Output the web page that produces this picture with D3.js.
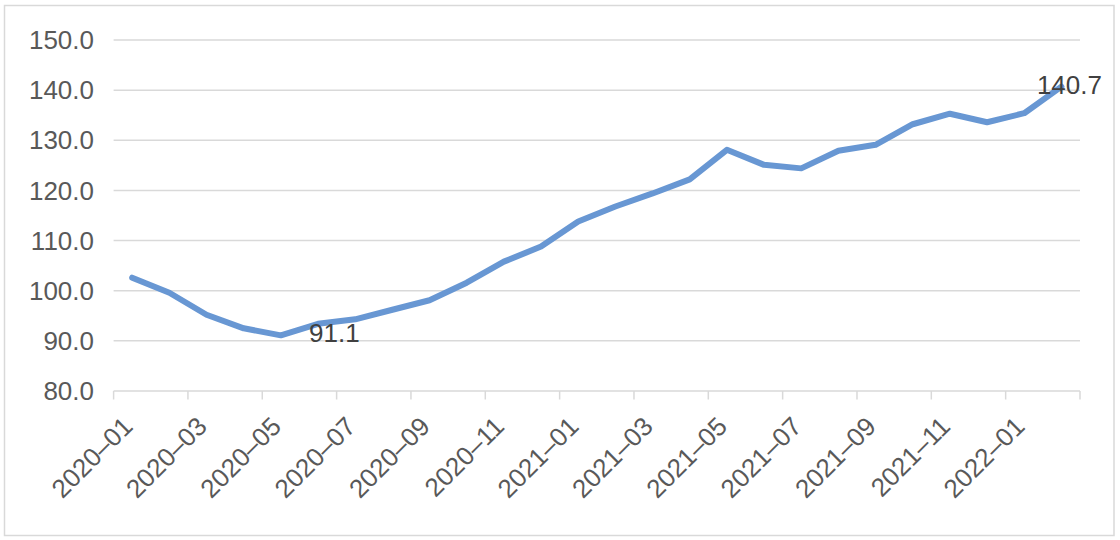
<!DOCTYPE html>
<html>
<head>
<meta charset="utf-8">
<script src="https://cdn.jsdelivr.net/npm/d3@7"></script>
<style>
  html, body { margin: 0; padding: 0; background: #fff; }
  svg { display: block; }
  text { font-family: "Liberation Sans", Arial, Helvetica, sans-serif; }
</style>
</head>
<body>
<svg id="chart" width="1120" height="540"></svg>
<script>
const categories = ["2020–01","2020–02","2020–03","2020–04","2020–05","2020–06","2020–07","2020–08","2020–09","2020–10","2020–11","2020–12",
  "2021–01","2021–02","2021–03","2021–04","2021–05","2021–06","2021–07","2021–08","2021–09","2021–10","2021–11","2021–12",
  "2022–01","2022–02"];
const values = [102.6, 99.6, 95.2, 92.5, 91.1, 93.4, 94.3, 96.2, 98.1, 101.6, 105.8, 108.8,
  113.8, 116.8, 119.4, 122.2, 128.1, 125.1, 124.4, 127.9, 129.1, 133.2, 135.3, 133.6,
  135.4, 140.7];
const yTicks = [80, 90, 100, 110, 120, 130, 140, 150];
const labelledPoints = [
  { index: 4, text: "91.1", dx: 53.5, dy: -2 },
  { index: 25, text: "140.7", dx: 8, dy: -2 }
];

(function () {
const svg = d3.select("#chart");
const pLeft = 113.6, pRight = 1080, pTop = 40, pBottom = 391;

// outer border
svg.append("rect").attr("x", 4.5).attr("y", 5.5).attr("width", 1109.5).attr("height", 530)
  .attr("fill", "#fff").attr("stroke", "#d9d9d9").attr("stroke-width", 1.5);

const x = d3.scaleBand().domain(categories).range([pLeft, pRight]).padding(0);
const y = d3.scaleLinear().domain([80, 150]).range([pBottom, pTop]);

// gridlines
svg.append("g").selectAll("line").data(yTicks.filter(d => d > 80)).join("line")
  .attr("x1", pLeft).attr("x2", pRight)
  .attr("y1", d => y(d)).attr("y2", d => y(d))
  .attr("stroke", "#d9d9d9").attr("stroke-width", 1.5);

// y labels
svg.append("g").selectAll("text").data(yTicks).join("text")
  .attr("x", 94).attr("y", d => y(d)).attr("dy", "0.35em")
  .attr("text-anchor", "end").attr("font-size", 26).attr("fill", "#595959")
  .text(d => d.toFixed(1));

// x axis line and ticks (at band boundaries, every 2 categories)
const xAxisG = svg.append("g");
xAxisG.append("line").attr("x1", pLeft).attr("x2", pRight).attr("y1", pBottom).attr("y2", pBottom)
  .attr("stroke", "#d9d9d9").attr("stroke-width", 1.5);
const tickCats = categories.filter((d, i) => i % 2 === 0);
const tickPositions = tickCats.map(c => x(c)).concat([pRight]);
xAxisG.selectAll("line.tick").data(tickPositions).join("line").attr("class", "tick")
  .attr("x1", d => d).attr("x2", d => d).attr("y1", pBottom).attr("y2", pBottom + 8.5)
  .attr("stroke", "#d9d9d9").attr("stroke-width", 1.5);

// x labels
xAxisG.selectAll("text").data(tickCats).join("text")
  .attr("transform", d => `translate(${x(d) + x.bandwidth() / 2 - 4.5},${pBottom + 30.5}) rotate(-45)`)
  .attr("text-anchor", "end").attr("dy", "0.35em")
  .attr("font-size", 26).attr("fill", "#595959")
  .text(d => d);

// line
const line = d3.line()
  .x((d, i) => x(categories[i]) + x.bandwidth() / 2)
  .y(d => y(d));
svg.append("path").datum(values).attr("d", line)
  .attr("fill", "none").attr("stroke", "#6897d3").attr("stroke-width", 6)
  .attr("stroke-linejoin", "round").attr("stroke-linecap", "round");

// data labels
svg.append("g").selectAll("text").data(labelledPoints).join("text")
  .attr("x", d => x(categories[d.index]) + x.bandwidth() / 2 + d.dx)
  .attr("y", d => y(values[d.index]) + d.dy)
  .attr("dy", "0.35em").attr("text-anchor", "middle")
  .attr("font-size", 26).attr("fill", "#404040")
  .text(d => d.text);
})();
</script>
</body>
</html>
